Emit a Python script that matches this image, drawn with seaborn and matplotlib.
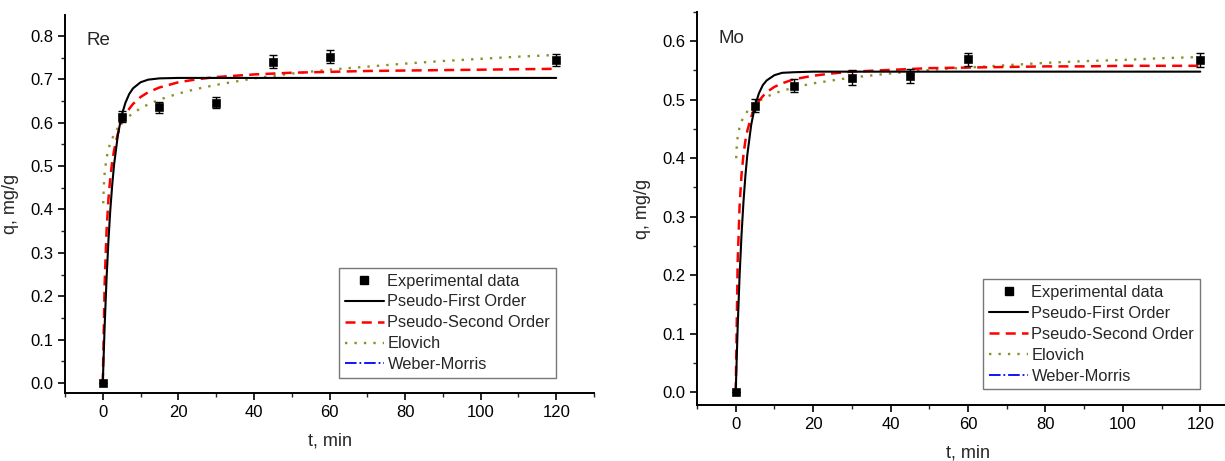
import numpy as np
import pandas as pd
import matplotlib
matplotlib.use('Agg')
import matplotlib.pyplot as plt
import seaborn as sns
from matplotlib.lines import Line2D
from matplotlib.ticker import MultipleLocator

# experimental points
t_exp = [0, 5, 15, 30, 45, 60, 120]
re_q = [0.0, 0.614, 0.635, 0.646, 0.740, 0.752, 0.744]
re_err = [0.0, 0.012, 0.012, 0.012, 0.015, 0.015, 0.014]
mo_q = [0.0, 0.490, 0.524, 0.538, 0.541, 0.569, 0.568]
mo_err = [0.0, 0.011, 0.011, 0.012, 0.012, 0.011, 0.012]

# fitted curves
t_fit = [0, 0.5, 1, 1.5, 2, 2.5, 3, 4, 5, 6, 7, 8, 10, 12, 15, 20, 25, 30,
         40, 50, 60, 70, 80, 90, 100, 110, 120]
re_pfo = [0, 0.133, 0.241, 0.329, 0.400, 0.457, 0.504, 0.572, 0.617, 0.646,
          0.666, 0.679, 0.693, 0.699, 0.702, 0.703, 0.703, 0.703, 0.703,
          0.703, 0.703, 0.703, 0.703, 0.703, 0.703, 0.703, 0.703]
re_pso = [0, 0.231, 0.351, 0.424, 0.474, 0.510, 0.537, 0.575, 0.600, 0.618,
          0.632, 0.643, 0.659, 0.670, 0.681, 0.693, 0.700, 0.705, 0.711,
          0.715, 0.717, 0.719, 0.720, 0.721, 0.722, 0.723, 0.724]
mo_pfo = [0, 0.110, 0.199, 0.269, 0.325, 0.370, 0.406, 0.457, 0.490, 0.511,
          0.525, 0.533, 0.542, 0.546, 0.547, 0.548, 0.548, 0.548, 0.548,
          0.548, 0.548, 0.548, 0.548, 0.548, 0.548, 0.548, 0.548]
mo_pso = [0, 0.221, 0.318, 0.372, 0.406, 0.430, 0.447, 0.471, 0.487, 0.498,
          0.506, 0.513, 0.522, 0.528, 0.535, 0.541, 0.545, 0.548, 0.551,
          0.554, 0.555, 0.556, 0.557, 0.557, 0.558, 0.558, 0.558]

t_elo = [0.12, 0.25, 0.5, 1, 1.5, 2, 3, 4, 5, 6, 8, 10, 12, 15, 20, 25, 30,
         40, 50, 60, 70, 80, 90, 100, 110, 120]
re_elo = [0.414, 0.450, 0.485, 0.519, 0.539, 0.553, 0.573, 0.588, 0.599,
          0.608, 0.622, 0.633, 0.642, 0.653, 0.667, 0.678, 0.687, 0.702,
          0.713, 0.722, 0.729, 0.736, 0.742, 0.747, 0.752, 0.756]
mo_elo = [0.400, 0.418, 0.436, 0.453, 0.463, 0.470, 0.480, 0.488, 0.493,
          0.498, 0.505, 0.511, 0.515, 0.521, 0.528, 0.533, 0.538, 0.545,
          0.551, 0.555, 0.559, 0.563, 0.566, 0.568, 0.571, 0.573]

sns.set_style('ticks')
plt.rcParams['font.family'] = ['Liberation Sans', 'DejaVu Sans']

fig = plt.figure(figsize=(12.25, 4.61), dpi=100)
ax1 = fig.add_axes([65/1225, 68/461, 529/1225, 378/461])
ax2 = fig.add_axes([697/1225, 56/461, 542/1225, 393/461])

ELO_COL = '#8f8f2a'
panels = [
    (ax1, 'Re', re_q, re_err, re_pfo, re_pso, re_elo, (-0.023, 0.848), 0.1),
    (ax2, 'Mo', mo_q, mo_err, mo_pfo, mo_pso, mo_elo, (-0.022, 0.65), 0.1),
]

for ax, name, q, err, pfo, pso, elo, ylim, step in panels:
    fit = pd.DataFrame({'t': t_fit, 'pfo': pfo, 'pso': pso})
    el = pd.DataFrame({'t': t_elo, 'q': elo})
    sns.lineplot(data=el, x='t', y='q', ax=ax, color=ELO_COL, lw=1.7,
                 linestyle=(0, (1, 3)), sort=False, legend=False)
    sns.lineplot(data=fit, x='t', y='pso', ax=ax, color='red', lw=1.8,
                 linestyle=(0, (4, 2.5)), sort=False, legend=False)
    sns.lineplot(data=fit, x='t', y='pfo', ax=ax, color='black', lw=1.5,
                 sort=False, legend=False)
    ax.errorbar(t_exp, q, yerr=err, fmt='none', ecolor='black',
                elinewidth=1.0, capsize=3.2, capthick=1.0, zorder=4)
    exp = pd.DataFrame({'t': t_exp, 'q': q})
    sns.scatterplot(data=exp, x='t', y='q', ax=ax, marker='s', s=34,
                    color='black', edgecolor='black', zorder=5, legend=False)

    ax.set_xlim(-10, 130)
    ax.set_ylim(*ylim)
    ax.xaxis.set_major_locator(MultipleLocator(20))
    ax.xaxis.set_minor_locator(MultipleLocator(10))
    ax.yaxis.set_major_locator(MultipleLocator(step))
    ax.yaxis.set_minor_locator(MultipleLocator(step / 2))
    ax.yaxis.set_major_formatter(matplotlib.ticker.FormatStrFormatter('%.1f'))
    for s in ['top', 'right']:
        ax.spines[s].set_visible(False)
    for s in ['left', 'bottom']:
        ax.spines[s].set_linewidth(1.4)
        ax.spines[s].set_color('black')
    ax.tick_params(which='major', direction='out', length=5, width=1.2,
                   labelsize=12, colors='black')
    ax.tick_params(which='minor', direction='out', length=3, width=1.0)
    ax.set_xlabel('t, min', fontsize=13, labelpad=9)
    ax.set_ylabel('q, mg/g', fontsize=13, labelpad=8)
    ax.text(0.04, 0.955, name, transform=ax.transAxes, fontsize=13.5,
            ha='left', va='top')

    handles = [
        Line2D([], [], marker='s', color='black', linestyle='none', markersize=5.5),
        Line2D([], [], color='black', lw=1.5),
        Line2D([], [], color='red', lw=1.8, linestyle=(0, (4, 2.5))),
        Line2D([], [], color=ELO_COL, lw=1.7, linestyle=(0, (1, 3))),
        Line2D([], [], color='blue', lw=1.3, linestyle='-.'),
    ]
    labels = ['Experimental data', 'Pseudo-First Order', 'Pseudo-Second Order',
              'Elovich', 'Weber-Morris']
    leg = ax.legend(handles, labels, loc='lower right',
                    bbox_to_anchor=(0.928, 0.04), fontsize=11.8,
                    frameon=True, fancybox=False, handlelength=2.4,
                    handletextpad=0.2, labelspacing=0.36, borderpad=0.35,
                    borderaxespad=0)
    leg.get_frame().set_edgecolor('#555555')
    leg.get_frame().set_linewidth(1.0)

fig.savefig('out.png', dpi=100)
